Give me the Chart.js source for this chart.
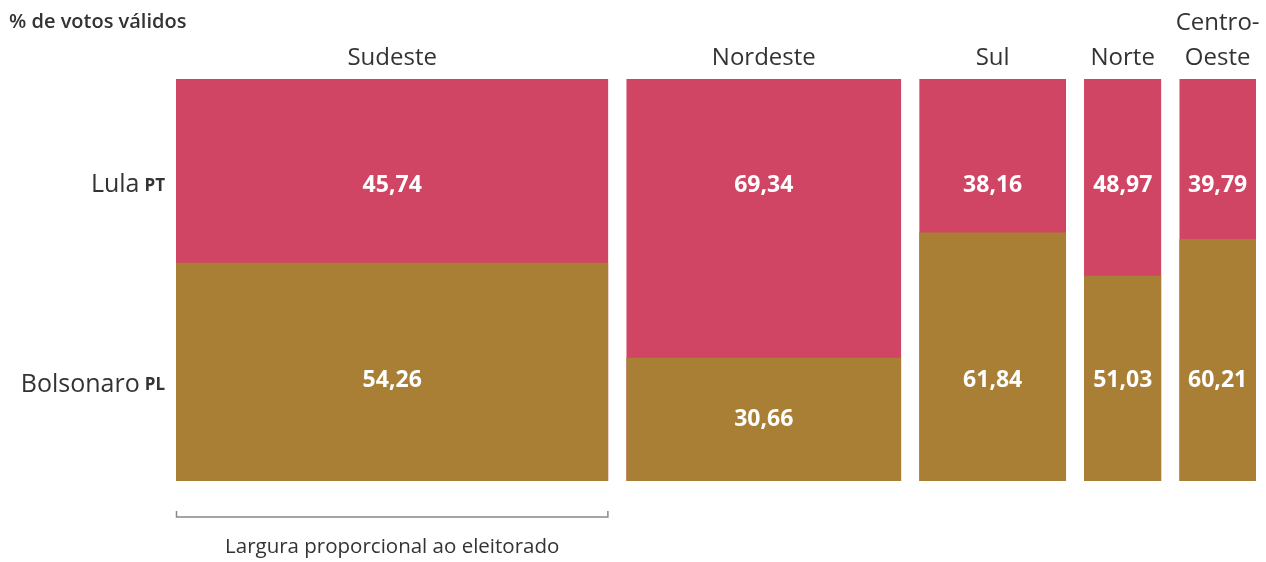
<!DOCTYPE html>
<html lang="pt-BR">
<head>
<meta charset="utf-8">
<title>Votos por região</title>
<script src="https://cdn.jsdelivr.net/npm/chart.js@4/dist/chart.umd.min.js"></script>
<style>
  html, body { margin: 0; padding: 0; background: #fff; }
  #wrap { width: 1266px; height: 562px; position: relative; }
</style>
</head>
<body>
<div id="wrap"><canvas id="mekko"></canvas></div>
<script>
  // regiões, eleitorado (milhões) e % de votos válidos
  const regions = ['Sudeste', 'Nordeste', 'Sul', 'Norte', 'Centro-Oeste'];
  const electorate = [66.5, 42.3, 22.6, 11.9, 11.8];
  const lula = [45.74, 69.34, 38.16, 48.97, 39.79];
  const bolsonaro = [54.26, 30.66, 61.84, 51.03, 60.21];
  const candidates = [['Lula', 'PT'], ['Bolsonaro', 'PL']];

  const PINK = '#D14564';
  const GOLD = '#A87F35';
  const INK = '#333333';
  const FONT = '"Open Sans", "Noto Sans", sans-serif';
  const GAP = 2.75;            // espaço entre colunas, em unidades do eixo x
  const ROW_LULA = 73.6;       // altura preferida dos rótulos de cada linha
  const ROW_BOLSO = 25;

  // início de cada coluna no eixo x
  const starts = [];
  let acc = 0;
  electorate.forEach(v => { starts.push(acc); acc += v + GAP; });
  const xMax = acc - GAP;

  const datasets = [];
  regions.forEach((r, i) => {
    const x0 = starts[i], x1 = starts[i] + electorate[i];
    const top = bolsonaro[i] + lula[i];
    // Lula: coluna inteira; Bolsonaro é pintado por cima
    datasets.push({
      label: r + ' Lula',
      data: [{ x: x0, y: top }, { x: x1, y: top }],
      backgroundColor: PINK,
      fill: { value: 0 },
      order: 2
    });
    datasets.push({
      label: r + ' Bolsonaro',
      data: [{ x: x0, y: bolsonaro[i] }, { x: x1, y: bolsonaro[i] }],
      backgroundColor: GOLD,
      fill: { value: 0 },
      order: 1
    });
  });

  function fmt(v) {
    return v.toFixed(2).replace('.', ',');
  }

  function labelY(lo, hi, row) {
    return (row - lo > 8 && hi - row > 8) ? row : (lo + hi) / 2;
  }

  const labelsPlugin = {
    id: 'mekkoLabels',
    afterDraw(chart) {
      const { ctx, scales: { x, y } } = chart;
      ctx.save();

      // título
      ctx.fillStyle = INK;
      ctx.textAlign = 'left';
      ctx.textBaseline = 'alphabetic';
      ctx.font = `600 20px ${FONT}`;
      ctx.fillText('% de votos válidos', 9, 28);

      // nomes das regiões
      ctx.font = `24px ${FONT}`;
      ctx.textAlign = 'center';
      regions.forEach((r, i) => {
        const cx = x.getPixelForValue(starts[i] + electorate[i] / 2);
        const parts = r.includes('-') ? [r.split('-')[0] + '-', r.split('-')[1]] : [r];
        parts.forEach((p, k) => {
          ctx.fillText(p, cx, 65 - (parts.length - 1 - k) * 35);
        });
      });

      // valores
      ctx.fillStyle = '#ffffff';
      ctx.font = `bold 23px ${FONT}`;
      ctx.textBaseline = 'middle';
      regions.forEach((r, i) => {
        const cx = x.getPixelForValue(starts[i] + electorate[i] / 2);
        const b = bolsonaro[i];
        ctx.fillText(fmt(lula[i]), cx, y.getPixelForValue(labelY(b, b + lula[i], ROW_LULA)));
        ctx.fillText(fmt(b), cx, y.getPixelForValue(labelY(0, b, ROW_BOLSO)));
      });

      // candidatos à esquerda
      const right = chart.chartArea.left - 11;
      [ROW_LULA, ROW_BOLSO].forEach((row, k) => {
        const cy = y.getPixelForValue(row) + (k === 1 ? 4 : 0);
        ctx.fillStyle = INK;
        ctx.textAlign = 'right';
        ctx.font = `bold 17px ${FONT}`;
        const pw = ctx.measureText(candidates[k][1]).width;
        ctx.fillText(candidates[k][1], right, cy + 1);
        ctx.font = `25px ${FONT}`;
        ctx.fillText(candidates[k][0], right - pw - 5, cy);
      });

      // colchete sob a primeira coluna
      const bx0 = x.getPixelForValue(starts[0]);
      const bx1 = x.getPixelForValue(starts[0] + electorate[0]);
      ctx.strokeStyle = '#888888';
      ctx.lineWidth = 1.5;
      ctx.beginPath();
      ctx.moveTo(bx0 + 0.5, 511);
      ctx.lineTo(bx0 + 0.5, 517);
      ctx.lineTo(bx1 - 0.5, 517);
      ctx.lineTo(bx1 - 0.5, 511);
      ctx.stroke();

      ctx.fillStyle = INK;
      ctx.textAlign = 'center';
      ctx.textBaseline = 'alphabetic';
      ctx.font = `20.5px ${FONT}`;
      ctx.fillText('Largura proporcional ao eleitorado', (bx0 + bx1) / 2, 553);

      ctx.restore();
    }
  };

  new Chart(document.getElementById('mekko'), {
    type: 'line',
    data: { datasets },
    options: {
      responsive: true,
      maintainAspectRatio: false,
      animation: false,
      events: [],
      layout: { padding: { left: 176, right: 10, top: 79, bottom: 81 } },
      elements: {
        line: { borderWidth: 0, tension: 0 },
        point: { radius: 0, hoverRadius: 0 }
      },
      scales: {
        x: { type: 'linear', min: 0, max: xMax, display: false },
        y: { type: 'linear', min: 0, max: 100, display: false }
      },
      plugins: {
        legend: { display: false },
        tooltip: { enabled: false }
      }
    },
    plugins: [labelsPlugin]
  });
</script>
</body>
</html>
